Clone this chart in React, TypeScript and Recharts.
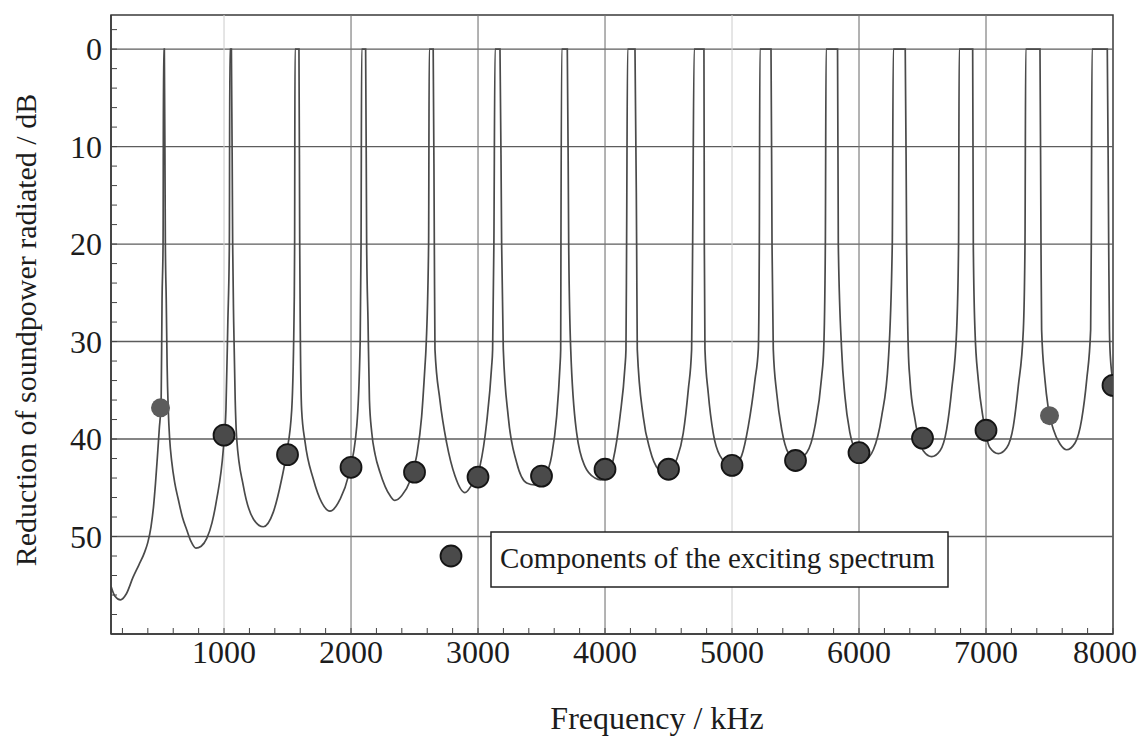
import { ComposedChart, Line, Scatter, XAxis, YAxis, ReferenceLine, ReferenceArea } from 'recharts';

// radiated soundpower reduction: [frequency kHz, reduction dB]
const RESPONSE_CURVE: [number, number][] = [
  [110, 55.1], [140, 56.1], [185, 56.5], [230, 55.9], [283, 54.2], [330, 52.9], [375, 51.6], [400, 50.6],
  [425, 49.0], [445, 46.9], [460, 44.6], [475, 41.9], [490, 39.0], [505, 36.0], [512, 25.7], [520, 20.0],
  [524, 0], [530, 0], [538, 20.0], [545, 25.7], [552, 32.5], [561, 37.0], [572, 40.0], [588, 42.3],
  [612, 44.5], [640, 46.2], [672, 48.0], [706, 49.3], [740, 50.5], [779, 51.2], [820, 51.0], [864, 50.2],
  [905, 48.6], [942, 46.2], [994, 41.1], [1015, 37.0], [1030, 28.0], [1042, 20.0], [1046, 0], [1058, 0],
  [1068, 20.0], [1076, 28.0], [1088, 36.0], [1100, 40.0], [1152, 44.8], [1231, 48.2], [1309, 49.0], [1388, 47.5],
  [1454, 44.1], [1493, 41.4], [1533, 37.0], [1553, 25.7], [1556, 20.0], [1559, 0], [1590, 0], [1596, 20.0],
  [1600, 28.0], [1611, 37.0], [1638, 40.3], [1703, 44.1], [1769, 46.5], [1834, 47.4], [1913, 46.2], [1979, 43.8],
  [2045, 38.7], [2072, 30.0], [2079, 20.0], [2084, 0], [2115, 0], [2123, 20.0], [2134, 28.0], [2145, 36.0],
  [2163, 39.3], [2190, 41.6], [2228, 43.4], [2307, 45.8], [2345, 46.3], [2400, 45.8], [2464, 44.3], [2517, 41.7],
  [2556, 37.7], [2582, 32.6], [2590, 30.8], [2611, 20.0], [2616, 0], [2647, 0], [2656, 20.0], [2661, 30.8],
  [2700, 36.0], [2753, 40.4], [2819, 43.8], [2897, 45.5], [2963, 44.4], [3015, 42.8], [3068, 38.3], [3107, 32.6],
  [3115, 30.8], [3125, 20.0], [3134, 0], [3173, 0], [3186, 20.0], [3199, 30.8], [3238, 37.7], [3304, 42.4],
  [3383, 44.5], [3449, 44.7], [3527, 43.8], [3580, 41.7], [3619, 37.7], [3645, 32.6], [3651, 30.8], [3653, 20.0],
  [3659, 0], [3703, 0], [3714, 20.0], [3730, 30.8], [3777, 39.4], [3842, 42.8], [3921, 44.0], [3967, 44.2],
  [4013, 43.9], [4065, 42.1], [4118, 37.7], [4157, 32.6], [4165, 30.8], [4170, 20.0], [4178, 0], [4236, 0],
  [4249, 20.0], [4254, 30.8], [4301, 37.7], [4354, 41.1], [4419, 43.1], [4485, 43.6], [4564, 42.1], [4616, 39.4],
  [4656, 34.9], [4682, 30.8], [4690, 20.0], [4702, 0], [4779, 0], [4782, 20.0], [4787, 30.8], [4813, 35.3],
  [4852, 39.4], [4905, 41.7], [4984, 42.6], [5030, 42.5], [5076, 41.7], [5128, 38.7], [5181, 33.9], [5207, 30.8],
  [5215, 20.0], [5220, 0], [5307, 0], [5315, 20.0], [5325, 30.8], [5352, 35.3], [5391, 39.0], [5443, 41.4],
  [5509, 42.1], [5588, 41.4], [5653, 38.7], [5706, 33.6], [5722, 30.8], [5735, 20.0], [5741, 0], [5831, 0],
  [5837, 20.0], [5863, 30.8], [5889, 35.6], [5929, 39.4], [5981, 41.4], [6047, 42.1], [6113, 41.1], [6178, 37.7],
  [6231, 31.9], [6262, 20.0], [6270, 0], [6364, 0], [6375, 20.0], [6388, 30.8], [6401, 33.9], [6441, 38.0],
  [6506, 41.2], [6572, 41.8], [6638, 41.2], [6690, 39.0], [6730, 34.9], [6769, 28.8], [6784, 20.0], [6789, 0],
  [6895, 0], [6900, 20.0], [6913, 28.8], [6939, 33.9], [6979, 38.0], [7031, 40.9], [7097, 41.5], [7163, 40.9],
  [7215, 38.7], [7254, 34.6], [7294, 28.8], [7307, 20.0], [7313, 0], [7425, 0], [7433, 20.0], [7438, 28.8],
  [7464, 33.9], [7490, 36.8], [7530, 39.0], [7583, 40.5], [7635, 41.1], [7701, 40.4], [7753, 38.0], [7793, 33.9],
  [7824, 28.8], [7829, 20.0], [7835, 0], [7955, 0], [7966, 20.0], [7972, 28.8], [7979, 31.5], [8000, 34.0],
];

// components of the exciting spectrum
const SPECTRUM_HZ = [500, 1000, 1500, 2000, 2500, 3000, 3500, 4000, 4500, 5000, 5500, 6000, 6500, 7000, 7500, 8000];
const SPECTRUM_DB = [36.8, 39.6, 41.6, 42.9, 43.4, 43.9, 43.8, 43.1, 43.1, 42.7, 42.2, 41.4, 39.9, 39.1, 37.6, 34.5];
const LIGHT_DOTS = [500, 7500];

const X_TICKS = [
  200, 400, 600, 800, 1000, 1200, 1400, 1600, 1800, 2000, 2200, 2400, 2600, 2800, 3000, 3200, 3400, 3600, 3800, 4000,
  4200, 4400, 4600, 4800, 5000, 5200, 5400, 5600, 5800, 6000, 6200, 6400, 6600, 6800, 7000, 7200, 7400, 7600, 7800, 8000,
];
const X_LABELS = [1000, 2000, 3000, 4000, 5000, 6000, 7000, 8000];
const Y_TICKS = [
  -2, 0, 2, 4, 6, 8, 10, 12, 14, 16, 18, 20, 22, 24, 26, 28, 30, 32, 34, 36, 38, 40, 42, 44, 46, 48, 50, 52, 54, 56, 58,
];
const Y_LABELS = [0, 10, 20, 30, 40, 50];
const GRID_DB = [0, 10, 20, 30, 40, 50];
const GRID_HZ = [1000, 2000, 3000, 4000, 5000, 6000, 7000];
const FAINT_GRID_HZ = [1000, 5000];

const X_DOMAIN: [number, number] = [110, 8000];
const Y_DOMAIN: [number, number] = [-3.5, 60];

const W = 1139;
const H = 739;
const FONT = '"Liberation Serif", "Times New Roman", serif';
const INK = '#1c1c1c';
const TICK_FONT = 32;

const curveData = RESPONSE_CURVE.map(([hz, db]) => ({ hz, db }));
const spectrumData = SPECTRUM_HZ.map((hz, i) => ({ hz, db: SPECTRUM_DB[i] }));

function XTick({ x, y, payload }: any) {
  const v = payload.value;
  // keep the last label inside the picture, like the original
  const lx = Math.min(x, W - 2 - TICK_FONT);
  return (
    <g>
      <line x1={x} x2={x} y1={y} y2={y - 6} stroke="#444" strokeWidth={1} />
      {X_LABELS.includes(v) && (
        <text x={lx} y={y + 29} textAnchor="middle" fontFamily={FONT} fontSize={TICK_FONT} fill={INK}>{v}</text>
      )}
    </g>
  );
}

function YTick({ x, y, payload }: any) {
  const v = payload.value;
  return (
    <g>
      <line x1={x} x2={x + 6} y1={y} y2={y} stroke="#444" strokeWidth={1} />
      {Y_LABELS.includes(v) && (
        <text x={x - 9} y={y} dy="0.35em" textAnchor="end" fontFamily={FONT} fontSize={TICK_FONT} fill={INK}>{v}</text>
      )}
    </g>
  );
}

function Dot(props: any) {
  const { cx, cy, payload } = props;
  const light = LIGHT_DOTS.includes(payload.hz);
  return (
    <circle
      cx={cx}
      cy={cy}
      r={light ? 9.5 : 10.5}
      fill={light ? '#5c5c5c' : '#4a4a4a'}
      stroke={light ? 'none' : '#151515'}
      strokeWidth={1.8}
    />
  );
}

export default function App() {
  return (
    <div style={{ position: 'absolute', left: 0, top: 0, width: W, height: H, background: '#fff' }}>
      <ComposedChart width={W} height={H} margin={{ top: 15, right: 26, bottom: 0, left: 0 }}>
        <XAxis
          type="number"
          dataKey="hz"
          domain={X_DOMAIN}
          allowDataOverflow
          ticks={X_TICKS}
          interval={0}
          tick={<XTick />}
          tickLine={false}
          tickSize={0}
          tickMargin={0}
          height={105}
          axisLine={{ stroke: '#3a3a3a', strokeWidth: 1.5 }}
        />
        <YAxis
          type="number"
          dataKey="db"
          domain={Y_DOMAIN}
          reversed
          allowDataOverflow
          ticks={Y_TICKS}
          interval={0}
          tick={<YTick />}
          tickLine={false}
          tickSize={0}
          tickMargin={0}
          width={111}
          axisLine={{ stroke: '#3a3a3a', strokeWidth: 1.5 }}
        />
        {GRID_DB.map((v) => (
          <ReferenceLine key={`gy${v}`} y={v} stroke="#5c5c5c" strokeWidth={1.4} />
        ))}
        {GRID_HZ.map((v) => (
          <ReferenceLine
            key={`gx${v}`}
            x={v}
            stroke={FAINT_GRID_HZ.includes(v) ? '#d0d0d0' : '#747474'}
            strokeWidth={1.1}
          />
        ))}
        <ReferenceArea
          x1={X_DOMAIN[0]}
          x2={X_DOMAIN[1]}
          y1={Y_DOMAIN[0]}
          y2={Y_DOMAIN[1]}
          fill="none"
          stroke="#3a3a3a"
          strokeWidth={1.5}
        />
        <Line
          data={curveData}
          dataKey="db"
          type="monotone"
          stroke="#4a4a4a"
          strokeWidth={1.7}
          dot={false}
          isAnimationActive={false}
        />
        <Scatter data={spectrumData} dataKey="db" shape={<Dot />} isAnimationActive={false} />
      </ComposedChart>

      <svg width={W} height={H} style={{ position: 'absolute', left: 0, top: 0, pointerEvents: 'none' }}>
        <text
          transform="translate(25 330) rotate(-90)"
          textAnchor="middle"
          dominantBaseline="central"
          fontFamily={FONT}
          fontSize={30}
          fill={INK}
        >
          Reduction of soundpower radiated / dB
        </text>
        <text x={657} y={729} textAnchor="middle" fontFamily={FONT} fontSize={32} fill={INK}>
          Frequency / kHz
        </text>
        <circle cx={451} cy={556} r={10.5} fill="#4a4a4a" stroke="#151515" strokeWidth={1.8} />
        <rect x={491} y={532} width={457} height={55} fill="#fff" stroke="#222" strokeWidth={1.5} />
        <text x={500} y={568} fontFamily={FONT} fontSize={29} fill={INK}>
          Components of the exciting spectrum
        </text>
      </svg>
    </div>
  );
}
